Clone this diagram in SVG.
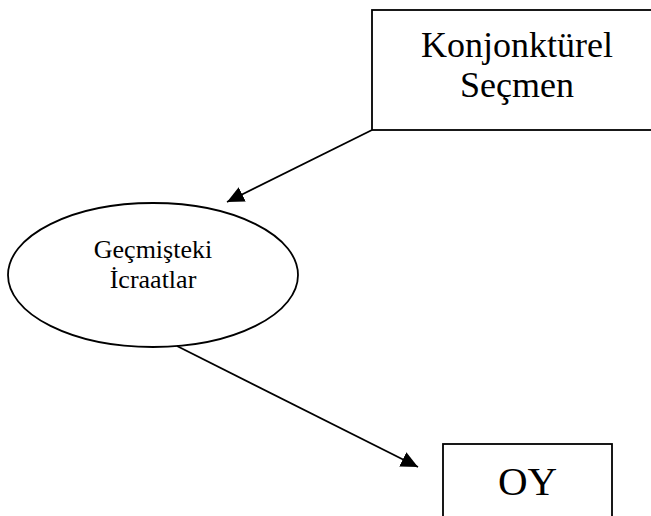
<svg xmlns="http://www.w3.org/2000/svg" width="651" height="516" viewBox="0 0 651 516">
<style>
.box{fill:#fff;stroke:#000;stroke-width:1.8}
.lbl{font-family:"Liberation Serif","Times New Roman",serif;fill:#000;text-anchor:middle}
.conn{stroke:#000;stroke-width:1.8;fill:none}
</style>
<defs>
<marker id="ah" markerUnits="userSpaceOnUse" markerWidth="20" markerHeight="18" refX="17" refY="8" orient="auto">
<path d="M0,0 L17,8 L0,16 z" fill="#000"/>
</marker>
</defs>
<rect width="651" height="516" fill="#fff"/>
<g id="konjonkturel-secmen">
<rect class="box" x="372" y="10" width="290" height="120"/>
<text class="lbl" x="517" y="57" font-size="36">Konjonktürel</text>
<text class="lbl" x="517" y="97" font-size="36">Seçmen</text>
</g>
<g id="gecmisteki-icraatlar">
<ellipse class="box" cx="153" cy="275" rx="145" ry="72"/>
<text class="lbl" x="153" y="258" font-size="26">Geçmişteki</text>
<text class="lbl" x="153" y="288" font-size="26">İcraatlar</text>
</g>
<g id="oy">
<rect class="box" x="443" y="444" width="169" height="80"/>
<text class="lbl" x="527.5" y="495" font-size="41">OY</text>
</g>
<g id="connectors">
<line class="conn" x1="372" y1="130" x2="227" y2="202" marker-end="url(#ah)"/>
<line class="conn" x1="177" y1="346" x2="418" y2="467" marker-end="url(#ah)"/>
</g>
</svg>
